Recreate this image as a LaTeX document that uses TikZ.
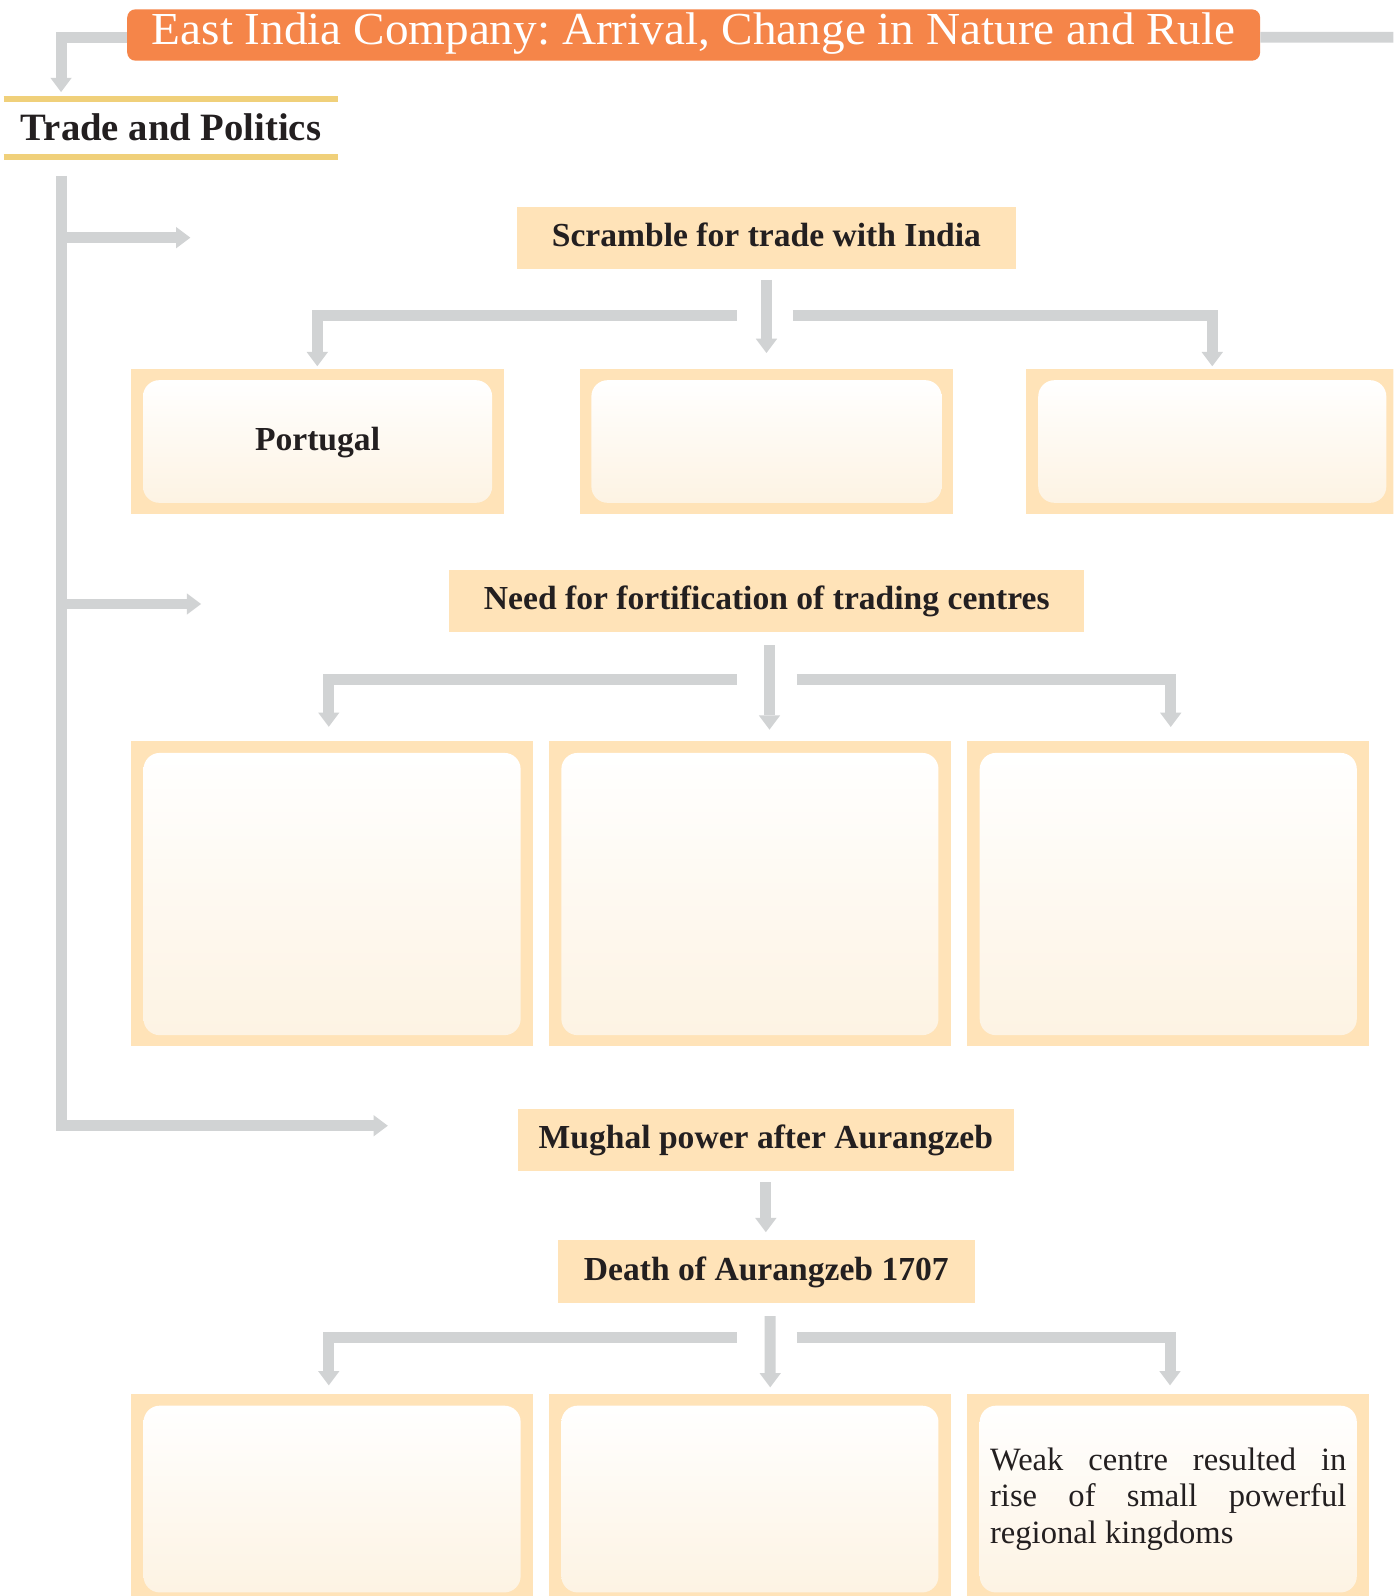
\documentclass[tikz,border=0pt]{standalone}
\usepackage{fontspec}
\setmainfont{Liberation Serif}
\newfontfamily\titlefont[FakeStretch=1.03]{Liberation Serif}
\usetikzlibrary{arrows.meta}
\definecolor{orangeT}{HTML}{F58549}
\definecolor{grayC}{HTML}{D1D3D4}
\definecolor{peach}{HTML}{FFE3B8}
\definecolor{barY}{HTML}{F0D07A}
\definecolor{innerBot}{HTML}{FDF3E3}
\definecolor{ink}{HTML}{231F20}
\frenchspacing
\begin{document}
\begin{tikzpicture}[x=1pt,y=-1pt,
  conn/.style={draw=grayC, line width=10.8pt, line join=miter,
    -{Triangle[width=21pt,length=14pt,line width=0pt]}},
  plainline/.style={draw=grayC, line width=10.8pt, line join=miter},
  hbox/.style={fill=peach, inner sep=0pt, outer sep=0pt,
    font=\fontsize{33}{38}\selectfont\bfseries, text=ink,
    text height=23pt, text depth=5.8pt},
  outerbox/.style={fill=peach, inner sep=0pt, outer sep=0pt, anchor=north west},
  innerbox/.style={rounded corners=16pt, top color=white, bottom color=innerBot,
    inner sep=0pt, outer sep=0pt, anchor=north west, draw=none},
]
\useasboundingbox (0,0) rectangle (1369,1568);
\fill[white] (0,0) rectangle (1369,1568);
\clip (0,0) rectangle (1369,1568);

% title
\node[fill=orangeT, rounded corners=8pt, minimum width=1113pt, minimum height=50.4pt,
  inner sep=0pt, text=white, font=\titlefont\fontsize{45}{50}\selectfont\frenchspacing,
  text height=29pt, text depth=9.4pt] (title) at (681.5,34.4)
  {East India Company: Arrival, Change in Nature and Rule};

% Trade and Politics
\node[minimum width=328.5pt, minimum height=55.9pt, inner sep=0pt,
  font=\fontsize{38}{44}\selectfont\bfseries, text=ink,
  text height=27pt, text depth=3.2pt] (trade) at (168,125.7) {Trade and Politics};
\draw[barY, line width=6pt] (trade.north west) -- (trade.north east);
\draw[barY, line width=6pt] (trade.south west) -- (trade.south east);

% heading boxes
\node[hbox, minimum width=490pt, minimum height=61pt] (scr) at (753,234) {Scramble for trade with India};
\node[hbox, minimum width=624pt, minimum height=61.3pt] (fort) at (753.3,590.2) {Need for fortification of trading centres};
\node[hbox, minimum width=487.2pt, minimum height=61.2pt] (mughal) at (752.4,1119.9) {Mughal power after Aurangzeb};
\node[hbox, minimum width=410.1pt, minimum height=61.2pt] (death) at (752.85,1249.3) {Death of Aurangzeb 1707};

% row 1 boxes
\node[outerbox, minimum width=366.5pt, minimum height=142.2pt] (b11) at (128.5,362.8) {};
\node[outerbox, minimum width=367pt, minimum height=142.2pt] (b12) at (569.5,362.8) {};
\node[outerbox, minimum width=366pt, minimum height=142.2pt] (b13) at (1008,362.8) {};
\node[innerbox, minimum width=343pt, minimum height=120.5pt,
  font=\fontsize{33}{38}\selectfont\bfseries, text=ink, text height=23pt, text depth=6.2pt]
  (b11i) at (140.5,373.5) {Portugal};
\node[innerbox, minimum width=344pt, minimum height=120.5pt] (b12i) at (581,373.5) {};
\node[innerbox, minimum width=342pt, minimum height=120.5pt] (b13i) at (1020,373.5) {};

% row 2 boxes
\node[outerbox, minimum width=394.5pt, minimum height=299.6pt] (b21) at (129,728) {};
\node[outerbox, minimum width=394.5pt, minimum height=299.6pt] (b22) at (539.5,728) {};
\node[outerbox, minimum width=394.5pt, minimum height=299.6pt] (b23) at (950.5,728) {};
\node[innerbox, minimum width=370.5pt, minimum height=277.3pt] (b21i) at (141,739.7) {};
\node[innerbox, minimum width=370.5pt, minimum height=277.3pt] (b22i) at (551.5,739.7) {};
\node[innerbox, minimum width=370.5pt, minimum height=277.3pt] (b23i) at (962.5,739.7) {};

% row 3 boxes
\node[outerbox, minimum width=394.5pt, minimum height=215pt] (b31) at (129,1369.4) {};
\node[outerbox, minimum width=394.5pt, minimum height=215pt] (b32) at (539.5,1369.4) {};
\node[outerbox, minimum width=394.5pt, minimum height=215pt] (b33) at (950.5,1369.4) {};
\node[innerbox, minimum width=370.5pt, minimum height=183.5pt] (b31i) at (141,1381) {};
\node[innerbox, minimum width=370.5pt, minimum height=183.5pt] (b32i) at (551.5,1381) {};
\node[innerbox, minimum width=370.5pt, minimum height=183.5pt, text width=350pt,
  align=justify, font=\fontsize{32}{36}\selectfont, text=ink] (b33i) at (962.5,1381)
  {Weak centre resulted in\linebreak rise of small powerful\linebreak regional kingdoms};

% named free ends
\coordinate (tpin) at (60,90.4);
\coordinate (br1) at (60,233.5);  \coordinate (br1tip) at (187,233.5);
\coordinate (br2) at (60,593.4);  \coordinate (br2tip) at (197.5,593.4);
\coordinate (br3tip) at (381,1106);
\coordinate (r1L) at (724,309.6); \coordinate (r1R) at (779,309.6);
\coordinate (r2L) at (724,667.1); \coordinate (r2R) at (783,667.1);
\coordinate (r2Ltip) at (323,714); \coordinate (r2Rtip) at (1150.2,714.2);
\coordinate (r2Ctip) at (756,716.8);
\coordinate (r3L) at (724,1314.5); \coordinate (r3R) at (783,1314.5);
\coordinate (r3Ltip) at (323,1361); \coordinate (r3Rtip) at (1149.5,1361);
\coordinate (r3Ctip) at (756.7,1363);
\coordinate (titleEnd) at (1380,36.6);

% title connectors
\draw[conn] ([yshift=-2.2pt]title.west) -| (tpin);
\draw[plainline] ([yshift=-2.2pt]title.east) -- (titleEnd);

% trunk and branches
\draw[conn] ([yshift=-19pt]trade.south -| tpin) |- (br3tip);
\draw[conn] (br1) -- (br1tip);
\draw[conn] (br2) -- (br2tip);

% row 1 connectors
\draw[conn] ([yshift=-10.5pt]scr.south) -- ([yshift=16pt]b12.north);
\draw[conn] (r1L) -| ([yshift=3pt]b11.north);
\draw[conn] (r1R) -| ([yshift=3pt]b13.north);

% row 2 connectors
\draw[conn] ([xshift=2.7pt,yshift=-13.2pt]fort.south) -- (r2Ctip);
\draw[conn] (r2L) -| (r2Ltip);
\draw[conn] (r2R) -| (r2Rtip);

% mughal to death
\draw[conn] ([yshift=-10.8pt]mughal.south) -- ([yshift=8.2pt]mughal.south |- death.north);

% row 3 connectors
\draw[conn] ([xshift=3.8pt,yshift=-13.1pt]death.south) -- (r3Ctip);
\draw[conn] (r3L) -| (r3Ltip);
\draw[conn] (r3R) -| (r3Rtip);
\end{tikzpicture}
\end{document}
